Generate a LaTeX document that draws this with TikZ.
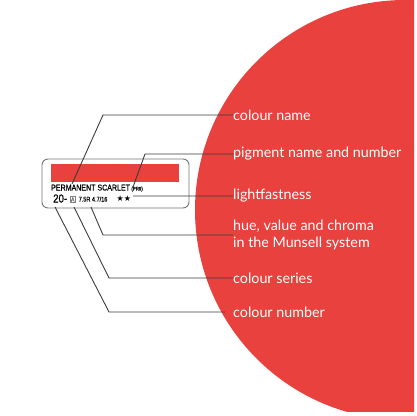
\documentclass[tikz,border=0pt]{standalone}
\usepackage{fontspec}
\usepackage{tikz}
\usetikzlibrary{positioning}

\newfontfamily\labelfont{Lato}
\newfontfamily\cardfont[FakeStretch=0.84, FakeBold=0.6]{Liberation Sans}
\newfontfamily\symbfont{DejaVu Sans}
\definecolor{cardred}{RGB}{232,65,62}
\definecolor{leadgray}{RGB}{60,60,60}

\begin{document}
\begin{tikzpicture}[x=1pt, y=-1pt]
        \tikzset{
          part/.style={anchor=west, inner sep=0pt, text=white, align=left,
            font=\labelfont\fontsize{14.3}{17.5}\selectfont},
          lead/.style={draw=leadgray, line width=0.9pt, shorten >=8pt},
          cardtext/.style={anchor=base west, inner sep=0pt, text=black}
        }
        \useasboundingbox (0,0) rectangle (416,416);

        % the red disc on the right
        \begin{scope}
          \clip (0,0) rectangle (414,411);
          \fill[cardred] (405,210) circle (210);
        \end{scope}

        % the tube label
        \draw[black!55, line width=0.9pt, rounded corners=6pt] (42,159) rectangle (189,208);
        \fill[cardred] (51,164) rectangle (179,182);
        \node[cardtext, font=\cardfont\fontsize{8.4}{9}\selectfont] (t_name) at (51,190.5) {PERMANENT SCARLET};
        \node[cardtext, font=\cardfont\fontsize{5.2}{6}\selectfont, right=1pt of t_name.base east, anchor=base west] (t_pig) {(PR9)};
        \node[cardtext, font=\cardfont\fontsize{11.5}{12}\selectfont] (t_num) at (53,202.5) {20-};
        \node[cardtext, font=\cardfont\fontsize{6}{7}\selectfont, text=black!60, draw=black!50, line width=0.5pt, inner sep=0.8pt] (t_ser) at (70,201.5) {A};
        \node[cardtext, font=\cardfont\fontsize{6.6}{7}\selectfont] (t_hue) at (78.5,201.5) {7.5R 4.7/16};
        \node[cardtext, font=\symbfont\fontsize{8}{9}\selectfont] (t_star) at (116.5,201.5) {★★};

        % the labels
        \node[part] (l_name) at (233,115) {colour name};
        \node[part] (l_pig) at (233,154) {pigment name and number};
        \node[part] (l_light) at (233,196) {lightfastness};
        \node[part] (l_hue) at (233,235) {hue, value and chroma\\in the Munsell system};
        \node[part] (l_ser) at (233,278) {colour series};
        \node[part] (l_num) at (233,312) {colour number};

        % leader lines
        \coordinate (c_name) at (72,184);
        \coordinate (b_name) at (103,115);
        \coordinate (c_pig) at (133,187);
        \coordinate (b_pig) at (145,154);
        \coordinate (c_light) at (133,196);
        \coordinate (c_hue) at (91,207);
        \coordinate (b_hue) at (103,235);
        \coordinate (c_ser) at (74,207);
        \coordinate (b_ser) at (109,278);
        \coordinate (c_num) at (55,207);
        \coordinate (b_num) at (109,312);

        \path[lead]
        (c_name) -- (b_name) -- (l_name.west)
        (c_pig) -- (b_pig) -- (l_pig.west)
        (c_light) -- (l_light.west)
        (c_hue) -- (b_hue) -- (l_hue.west)
        (c_ser) -- (b_ser) -- (l_ser.west)
        (c_num) -- (b_num) -- (l_num.west);
    \end{tikzpicture}
\end{document}
